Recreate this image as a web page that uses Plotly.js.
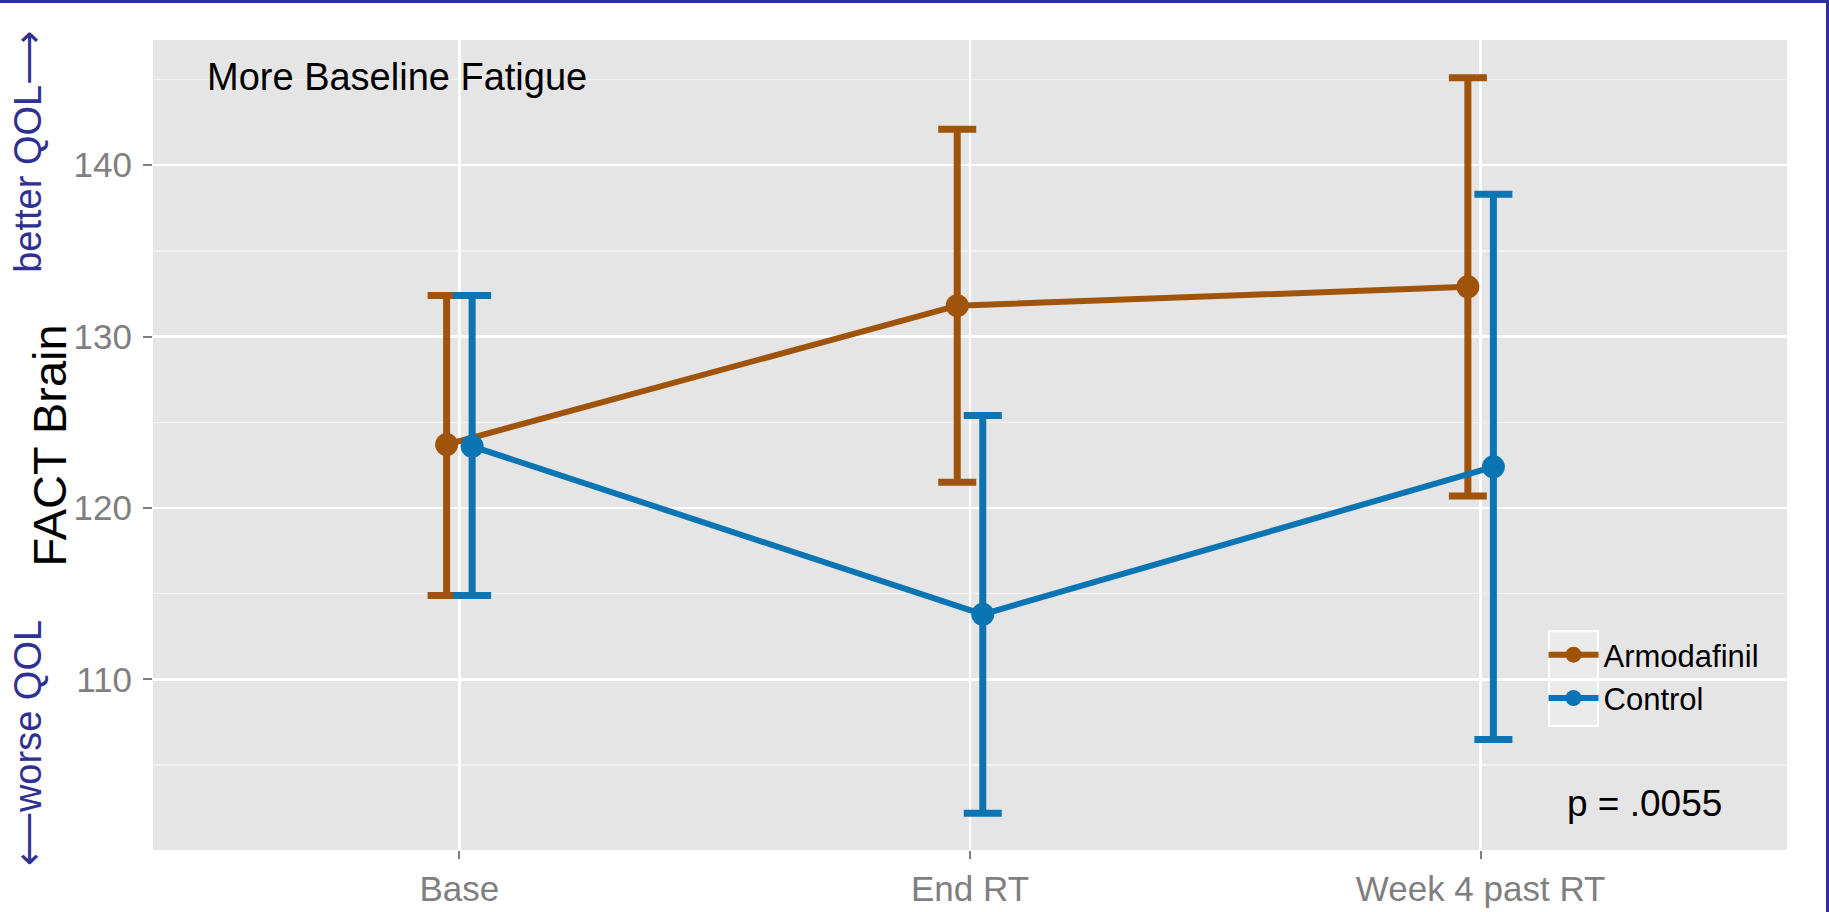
<!DOCTYPE html>
<html>
<head>
<meta charset="utf-8">
<script src="https://cdn.plot.ly/plotly-3.0.1.min.js"></script>
<style>
  html, body { margin: 0; padding: 0; background: #ffffff; }
  #frame {
    width: 1829px; height: 912px; box-sizing: border-box;
    border-top: 3px solid #2E3192; border-right: 3px solid #2E3192;
    overflow: hidden;
  }
  #chart { width: 1826px; height: 909px; }
</style>
</head>
<body>
<div id="frame"><div id="chart"></div></div>
<script>
// Time points and group labels
const timepoints = ["Base", "End RT", "Week 4 past RT"];
const groups = ["Armodafinil", "Control"];

// FACT Brain means with lower / upper interval limits per time point
const armodafinilMean  = [123.7, 131.8, 132.9];
const armodafinilLower = [114.9, 121.5, 120.7];
const armodafinilUpper = [132.4, 142.1, 145.1];

const controlMean  = [123.6, 113.8, 122.4];
const controlLower = [114.9, 102.2, 106.5];
const controlUpper = [132.4, 125.4, 138.3];

// Axis ticks
const yMajorTicks = [110, 120, 130, 140];
const yMinorTicks = [105, 115, 125, 135, 145];

const groupColors = ["#A0530A", "#0B75B4"];
const dodge = 0.025;   // horizontal separation of the two groups
const FONT = "Liberation Sans, Arial, sans-serif";

function groupTrace(name, mean, lower, upper, color, shift) {
  return {
    type: "scatter",
    mode: "lines+markers",
    name: name,
    x: timepoints.map((_, i) => i + shift),
    y: mean,
    line: { color: color, width: 6 },
    marker: { color: color, size: 23 },
    error_y: {
      type: "data",
      symmetric: false,
      array: upper.map((u, i) => u - mean[i]),
      arrayminus: lower.map((l, i) => mean[i] - l),
      color: color,
      thickness: 7,
      width: 19
    },
    hoverinfo: "x+y+name"
  };
}

const data = [
  groupTrace(groups[0], armodafinilMean, armodafinilLower, armodafinilUpper, groupColors[0], -dodge),
  groupTrace(groups[1], controlMean, controlLower, controlUpper, groupColors[1], dodge)
];

const layout = {
  width: 1826,
  height: 909,
  margin: { l: 153, r: 39, t: 37, b: 62 },
  paper_bgcolor: "#ffffff",
  plot_bgcolor: "#E5E5E5",
  font: { family: FONT, color: "#000000" },
  showlegend: true,
  xaxis: {
    range: [-0.6, 2.6],
    tickmode: "array",
    tickvals: timepoints.map((_, i) => i),
    ticktext: timepoints,
    ticks: "outside",
    ticklen: 8,
    tickwidth: 2,
    tickcolor: "#7F7F7F",
    tickfont: { family: FONT, size: 35, color: "#7F7F7F" },
    showgrid: true,
    gridcolor: "#ffffff",
    gridwidth: 2.5,
    zeroline: false,
    showline: false,
    fixedrange: true
  },
  yaxis: {
    range: [100.05, 147.3],
    tickmode: "array",
    tickvals: yMajorTicks,
    ticks: "outside",
    ticklen: 9,
    tickwidth: 2,
    tickcolor: "#7F7F7F",
    ticklabelstandoff: 4,
    tickfont: { family: FONT, size: 35, color: "#7F7F7F" },
    showgrid: true,
    gridcolor: "#ffffff",
    gridwidth: 2.5,
    zeroline: false,
    showline: false,
    minor: {
      tickmode: "array",
      tickvals: yMinorTicks,
      ticks: "",
      showgrid: true,
      gridcolor: "#F2F2F2",
      gridwidth: 1.3
    },
    fixedrange: true
  },
  legend: {
    x: 0.851, y: 0.274, xanchor: "left", yanchor: "top",
    bgcolor: "rgba(0,0,0,0)",
    font: { family: FONT, size: 31, color: "#000000" },
    itemsizing: "trace",
    itemwidth: 50
  },
  shapes: [
    {
      type: "rect", xref: "paper", yref: "paper",
      x0: 0.8544, x1: 0.8843, y0: 0.153, y1: 0.270,
      fillcolor: "#EBEBEB", line: { color: "#ffffff", width: 2 },
      layer: "between"
    }
  ],
  annotations: [
    {
      // y-axis title
      text: "FACT Brain", xref: "paper", yref: "paper",
      x: -0.0634, y: 0.5, xanchor: "center", yanchor: "middle", showarrow: false,
      textangle: -90,
      font: { family: FONT, size: 47, color: "#000000" }
    },
    {
      text: "More Baseline Fatigue", xref: "paper", yref: "paper",
      x: 0.0318, y: 0.954, xanchor: "left", yanchor: "middle", showarrow: false,
      font: { family: FONT, size: 38, color: "#000000" }
    },
    {
      text: "p = .0055", xref: "paper", yref: "paper",
      x: 0.913, y: 0.058, xanchor: "center", yanchor: "middle", showarrow: false,
      font: { family: FONT, size: 37, color: "#000000" }
    },
    {
      text: "better QOL\u27F6", xref: "paper", yref: "paper",
      x: -0.0765, y: 0.862, xanchor: "center", yanchor: "middle", showarrow: false,
      textangle: -90,
      font: { family: FONT, size: 38, color: "#2E3192" }
    },
    {
      text: "\u27F5worse QOL", xref: "paper", yref: "paper",
      x: -0.0765, y: 0.132, xanchor: "center", yanchor: "middle", showarrow: false,
      textangle: -90,
      font: { family: FONT, size: 38, color: "#2E3192" }
    }
  ]
};

Plotly.newPlot("chart", data, layout, { displayModeBar: false, staticPlot: true });
</script>
</body>
</html>
